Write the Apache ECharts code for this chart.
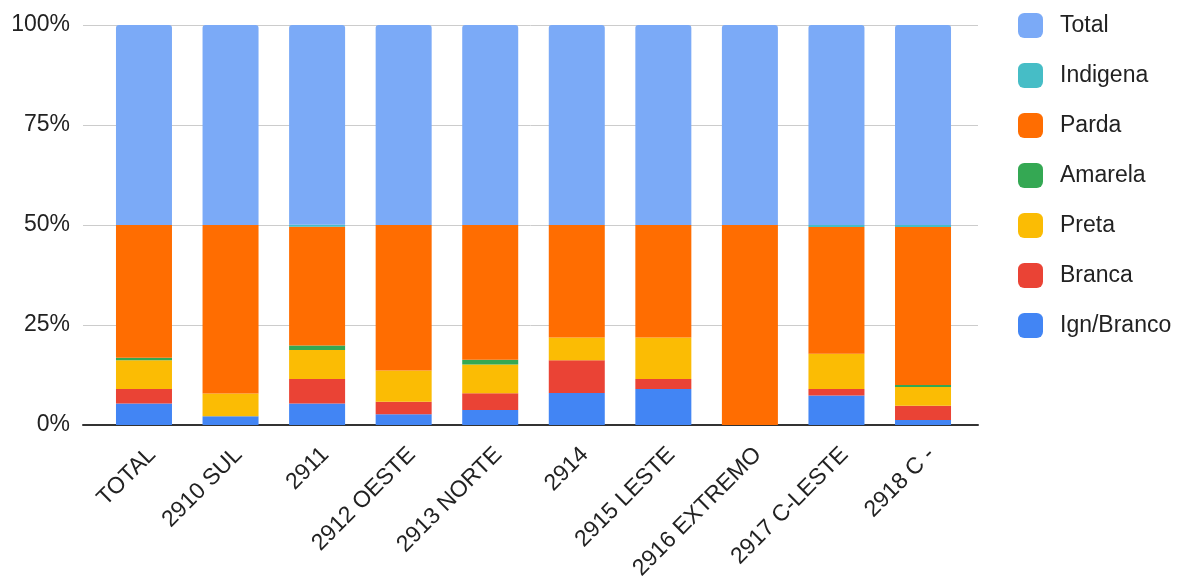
<!DOCTYPE html>
<html>
<head>
<meta charset="utf-8">
<script src="https://cdn.jsdelivr.net/npm/echarts@6/dist/echarts.min.js"></script>
<style>
body { margin: 0px; padding: 0px; background: #fff; }
#chart { width: 1194px; height: 579px; }
</style>
</head>
<body>
<div id="chart"></div>
<script>
// categorias (distritos)
var categories = ["TOTAL", "2910 SUL", "2911", "2912 OESTE", "2913 NORTE", "2914", "2915 LESTE", "2916 EXTREMO", "2917 C-LESTE", "2918 C -"];

// valores em % da barra
var ignBranco = [5.4, 2.2, 5.4, 2.7, 3.75, 8.0, 9.0, 0, 7.4, 1.25];
var branca = [3.6, 0, 6.1, 3.1, 4.2, 8.2, 2.5, 0, 1.6, 3.55];
var preta = [7.2, 5.7, 7.25, 7.8, 7.2, 5.7, 10.4, 0, 8.8, 4.7];
var amarela = [0.6, 0, 1.1, 0, 1.15, 0, 0, 0, 0, 0.5];
var parda = [33.2, 42.1, 29.7, 36.4, 33.7, 28.1, 28.1, 50, 31.7, 39.5];
var indigena = [0, 0, 0.5, 0, 0, 0, 0, 0, 0.5, 0.5];
var total = [50, 50, 50, 50, 50, 50, 50, 50, 50, 50];

var yTicks = [0, 25, 50, 75, 100];

var font = "Arial, 'Liberation Sans', sans-serif";

function bar(name, data, color, radius) {
  return {
    name: name,
    type: "bar",
    xAxisIndex: 1,
    yAxisIndex: 1,
    stack: "all",
    barWidth: 56,
    data: data,
    itemStyle: { color: color, borderRadius: radius || 0 },
  };
}

var chart = echarts.init(document.getElementById("chart"));
chart.setOption({
  animation: false,
  textStyle: { fontFamily: font },
  legend: {
    orient: "vertical",
    left: 1013,
    top: 8,
    itemWidth: 25,
    itemHeight: 25,
    itemGap: 25,
    icon: "roundRect",
    textStyle: { fontSize: 23, color: "#222", fontFamily: font, padding: [0, 0, 0, 12] },
    data: ["Total", "Indigena", "Parda", "Amarela", "Preta", "Branca", "Ign/Branco"],
  },
  grid: [
    { left: 83, right: 216, top: 25, bottom: 154, outerBoundsMode: "none" },
    { left: 100.7, right: 227.7, top: 25, bottom: 154, outerBoundsMode: "none" },
  ],
  xAxis: [
    {
      gridIndex: 0,
      type: "value",
      min: 0,
      max: 1,
      axisLine: { show: true, lineStyle: { color: "#333", width: 2 } },
      axisTick: { show: false },
      axisLabel: { show: false },
      splitLine: { show: false },
    },
    {
      gridIndex: 1,
      type: "category",
      data: categories,
      axisLine: { show: false },
      axisTick: { show: false },
      axisLabel: {
        rotate: 45,
        interval: 0,
        margin: 18,
        fontSize: 23,
        color: "#222",
        verticalAlign: "top",
        fontFamily: font,
      },
    },
  ],
  yAxis: [
    {
      gridIndex: 0,
      type: "value",
      min: yTicks[0],
      max: yTicks[yTicks.length - 1],
      interval: 25,
      axisLine: { show: false },
      axisTick: { show: false },
      axisLabel: { formatter: "{value}%", fontSize: 23, color: "#222", margin: 13, fontFamily: font },
      splitLine: { lineStyle: { color: "#ccc", width: 1 } },
    },
    {
      gridIndex: 1,
      type: "value",
      min: 0,
      max: 100,
      show: false,
    },
  ],
  series: [
    bar("Ign/Branco", ignBranco, "#4285F4"),
    bar("Branca", branca, "#EA4335"),
    bar("Preta", preta, "#FBBC04"),
    bar("Amarela", amarela, "#34A853"),
    bar("Parda", parda, "#FF6D01"),
    bar("Indigena", indigena, "#46BDC6"),
    bar("Total", total, "#7BAAF7", [3, 3, 0, 0]),
  ],
});
</script>
</body>
</html>
